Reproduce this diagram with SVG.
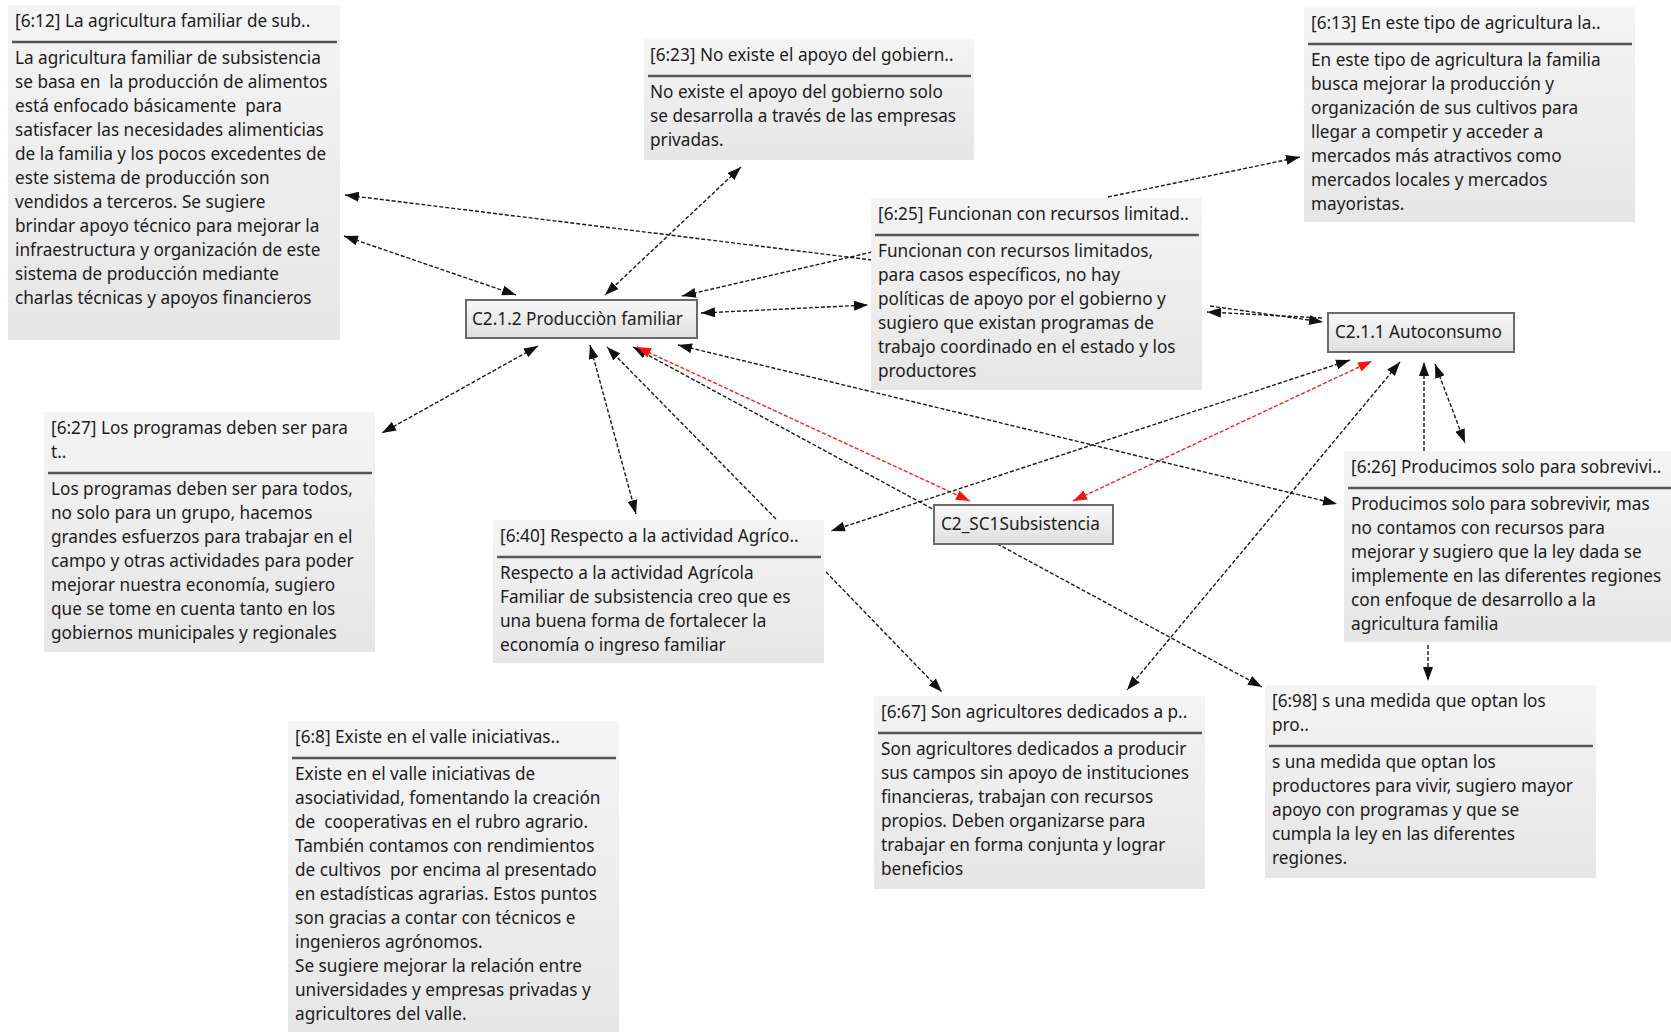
<svg xmlns="http://www.w3.org/2000/svg" width="1671" height="1032" viewBox="0 0 1671 1032">
<defs>
<linearGradient id="qg" x1="0" y1="0" x2="0" y2="1">
<stop offset="0" stop-color="#f4f4f4"/>
<stop offset="1" stop-color="#e6e6e6"/>
</linearGradient>
<linearGradient id="cg" x1="0" y1="0" x2="0" y2="1">
<stop offset="0" stop-color="#f7f7f7"/>
<stop offset="1" stop-color="#e0e0e0"/>
</linearGradient>
<marker id="ab" viewBox="0 0 14 10" refX="14" refY="5" markerWidth="14" markerHeight="10" orient="auto-start-reverse" markerUnits="userSpaceOnUse">
<path d="M0,0 L14,5 L0,10 Z" fill="#111" stroke="none"/>
</marker>
<marker id="ar" viewBox="0 0 14 10" refX="14" refY="5" markerWidth="14" markerHeight="10" orient="auto-start-reverse" markerUnits="userSpaceOnUse">
<path d="M0,0 L14,5 L0,10 Z" fill="#ff1010" stroke="none"/>
</marker>
</defs>
<style>
.q{fill:url(#qg);}
.c{fill:url(#cg);stroke:#6a6a6a;stroke-width:2;}
.sep{stroke:#555;stroke-width:2.5;}
text{font-family:"Noto Sans","Open Sans",sans-serif;font-size:17.2px;fill:#1c1c1c;white-space:pre;}
.ct{font-size:17.2px;}
.e{fill:none;stroke:#1a1a1a;stroke-width:1.4;stroke-dasharray:4 2;}
.b{marker-start:url(#ab);marker-end:url(#ab);}
.s{marker-end:url(#ab);}
.r{fill:none;stroke:#ff2020;stroke-width:1.4;stroke-dasharray:4 2;marker-start:url(#ar);marker-end:url(#ar);}
</style>
<rect width="1671" height="1032" fill="#ffffff"/>

<g id="connectors">
<line class="e s" x1="872" y1="260" x2="345" y2="195"/>
<line class="e s" x1="872" y1="252" x2="682" y2="296"/>
<line class="e b" x1="701" y1="313" x2="868" y2="305"/>
<line class="e b" x1="344" y1="236" x2="516" y2="295"/>
<line class="e b" x1="741" y1="167" x2="605" y2="295"/>
<line class="e b" x1="538" y1="346" x2="382" y2="433"/>
<line class="e b" x1="590" y1="345" x2="636" y2="514"/>
<line class="e s" x1="776" y1="519" x2="607" y2="347"/>
<line class="e b" x1="633" y1="347" x2="1262" y2="687"/>
<line class="r" x1="637" y1="347" x2="970" y2="501"/>
<line class="r" x1="1073" y1="501" x2="1372" y2="361"/>
<line class="e b" x1="678" y1="345" x2="1337" y2="504"/>
<line class="e b" x1="1350" y1="360" x2="831" y2="531"/>
<line class="e b" x1="1400" y1="362" x2="1127" y2="690"/>
<line class="e s" x1="1424" y1="451" x2="1424" y2="362"/>
<line class="e b" x1="1435" y1="364" x2="1465" y2="443"/>
<line class="e s" x1="1210" y1="306" x2="1323" y2="322"/>
<line class="e s" x1="1322" y1="318" x2="1207" y2="312"/>
<line class="e s" x1="1108" y1="197" x2="1300" y2="157"/>
<line class="e s" x1="1428" y1="645" x2="1428" y2="681"/>
<line class="e s" x1="826" y1="572" x2="942" y2="692"/>
</g>

<g id="q612">
<rect class="q" x="8" y="5" width="332" height="335"/>
<text x="15" y="26.5">[6:12] La agricultura familiar de sub..</text>
<line class="sep" x1="12" y1="42" x2="337" y2="42"/>
<text><tspan x="15" y="63.5">La agricultura familiar de subsistencia</tspan><tspan x="15" y="87.5">se basa en  la producción de alimentos</tspan><tspan x="15" y="111.5">está enfocado básicamente  para</tspan><tspan x="15" y="135.5">satisfacer las necesidades alimenticias</tspan><tspan x="15" y="159.5">de la familia y los pocos excedentes de</tspan><tspan x="15" y="183.5">este sistema de producción son</tspan><tspan x="15" y="207.5">vendidos a terceros. Se sugiere</tspan><tspan x="15" y="231.5">brindar apoyo técnico para mejorar la</tspan><tspan x="15" y="255.5">infraestructura y organización de este</tspan><tspan x="15" y="279.5">sistema de producción mediante</tspan><tspan x="15" y="303.5">charlas técnicas y apoyos financieros</tspan></text>
</g>

<g id="q623">
<rect class="q" x="644" y="39" width="330" height="121"/>
<text x="650" y="60.5">[6:23] No existe el apoyo del gobiern..</text>
<line class="sep" x1="648" y1="76" x2="971" y2="76"/>
<text><tspan x="650" y="97.5">No existe el apoyo del gobierno solo</tspan><tspan x="650" y="121.5">se desarrolla a través de las empresas</tspan><tspan x="650" y="145.5">privadas.</tspan></text>
</g>

<g id="q613">
<rect class="q" x="1304" y="7" width="331" height="215"/>
<text x="1311" y="28.5">[6:13] En este tipo de agricultura la..</text>
<line class="sep" x1="1308" y1="44" x2="1632" y2="44"/>
<text><tspan x="1311" y="65.5">En este tipo de agricultura la familia</tspan><tspan x="1311" y="89.5">busca mejorar la producción y</tspan><tspan x="1311" y="113.5">organización de sus cultivos para</tspan><tspan x="1311" y="137.5">llegar a competir y acceder a</tspan><tspan x="1311" y="161.5">mercados más atractivos como</tspan><tspan x="1311" y="185.5">mercados locales y mercados</tspan><tspan x="1311" y="209.5">mayoristas.</tspan></text>
</g>

<g id="q625">
<rect class="q" x="871" y="198" width="331" height="192"/>
<text x="878" y="219.5">[6:25] Funcionan con recursos limitad..</text>
<line class="sep" x1="875" y1="235" x2="1199" y2="235"/>
<text><tspan x="878" y="256.5">Funcionan con recursos limitados,</tspan><tspan x="878" y="280.5">para casos específicos, no hay</tspan><tspan x="878" y="304.5">políticas de apoyo por el gobierno y</tspan><tspan x="878" y="328.5">sugiero que existan programas de</tspan><tspan x="878" y="352.5">trabajo coordinado en el estado y los</tspan><tspan x="878" y="376.5">productores</tspan></text>
</g>

<g id="c212">
<rect class="c" x="466" y="300" width="231" height="38"/>
<text class="ct" x="472" y="325">C2.1.2 Producciòn familiar</text>
</g>

<g id="c211">
<rect class="c" x="1328" y="313" width="186" height="39"/>
<text class="ct" x="1335" y="338">C2.1.1 Autoconsumo</text>
</g>

<g id="csub">
<rect class="c" x="934" y="505" width="179" height="39"/>
<text class="ct" x="941" y="530">C2_SC1Subsistencia</text>
</g>

<g id="q627">
<rect class="q" x="44" y="412" width="331" height="240"/>
<text><tspan x="51" y="433.5">[6:27] Los programas deben ser para</tspan><tspan x="51" y="457.5">t..</tspan></text>
<line class="sep" x1="48" y1="473" x2="372" y2="473"/>
<text><tspan x="51" y="494.5">Los programas deben ser para todos,</tspan><tspan x="51" y="518.5">no solo para un grupo, hacemos</tspan><tspan x="51" y="542.5">grandes esfuerzos para trabajar en el</tspan><tspan x="51" y="566.5">campo y otras actividades para poder</tspan><tspan x="51" y="590.5">mejorar nuestra economía, sugiero</tspan><tspan x="51" y="614.5">que se tome en cuenta tanto en los</tspan><tspan x="51" y="638.5">gobiernos municipales y regionales</tspan></text>
</g>

<g id="q640">
<rect class="q" x="493" y="520" width="331" height="143"/>
<text x="500" y="541.5">[6:40] Respecto a la actividad Agríco..</text>
<line class="sep" x1="497" y1="557" x2="821" y2="557"/>
<text><tspan x="500" y="578.5">Respecto a la actividad Agrícola</tspan><tspan x="500" y="602.5">Familiar de subsistencia creo que es</tspan><tspan x="500" y="626.5">una buena forma de fortalecer la</tspan><tspan x="500" y="650.5">economía o ingreso familiar</tspan></text>
</g>

<g id="q626">
<rect class="q" x="1344" y="451" width="331" height="191"/>
<text x="1351" y="472.5">[6:26] Producimos solo para sobrevivi..</text>
<line class="sep" x1="1348" y1="488" x2="1671" y2="488"/>
<text><tspan x="1351" y="509.5">Producimos solo para sobrevivir, mas</tspan><tspan x="1351" y="533.5">no contamos con recursos para</tspan><tspan x="1351" y="557.5">mejorar y sugiero que la ley dada se</tspan><tspan x="1351" y="581.5">implemente en las diferentes regiones</tspan><tspan x="1351" y="605.5">con enfoque de desarrollo a la</tspan><tspan x="1351" y="629.5">agricultura familia</tspan></text>
</g>

<g id="q667">
<rect class="q" x="874" y="696" width="331" height="193"/>
<text x="881" y="717.5">[6:67] Son agricultores dedicados a p..</text>
<line class="sep" x1="878" y1="733" x2="1202" y2="733"/>
<text><tspan x="881" y="754.5">Son agricultores dedicados a producir</tspan><tspan x="881" y="778.5">sus campos sin apoyo de instituciones</tspan><tspan x="881" y="802.5">financieras, trabajan con recursos</tspan><tspan x="881" y="826.5">propios. Deben organizarse para</tspan><tspan x="881" y="850.5">trabajar en forma conjunta y lograr</tspan><tspan x="881" y="874.5">beneficios</tspan></text>
</g>

<g id="q698">
<rect class="q" x="1265" y="685" width="331" height="193"/>
<text><tspan x="1272" y="706.5">[6:98] s una medida que optan los</tspan><tspan x="1272" y="730.5">pro..</tspan></text>
<line class="sep" x1="1269" y1="746" x2="1593" y2="746"/>
<text><tspan x="1272" y="767.5">s una medida que optan los</tspan><tspan x="1272" y="791.5">productores para vivir, sugiero mayor</tspan><tspan x="1272" y="815.5">apoyo con programas y que se</tspan><tspan x="1272" y="839.5">cumpla la ley en las diferentes</tspan><tspan x="1272" y="863.5">regiones.</tspan></text>
</g>

<g id="q68">
<rect class="q" x="288" y="721" width="331" height="320"/>
<text x="295" y="742.5">[6:8] Existe en el valle iniciativas..</text>
<line class="sep" x1="292" y1="758" x2="616" y2="758"/>
<text><tspan x="295" y="779.5">Existe en el valle iniciativas de</tspan><tspan x="295" y="803.5">asociatividad, fomentando la creación</tspan><tspan x="295" y="827.5">de  cooperativas en el rubro agrario.</tspan><tspan x="295" y="851.5">También contamos con rendimientos</tspan><tspan x="295" y="875.5">de cultivos  por encima al presentado</tspan><tspan x="295" y="899.5">en estadísticas agrarias. Estos puntos</tspan><tspan x="295" y="923.5">son gracias a contar con técnicos e</tspan><tspan x="295" y="947.5">ingenieros agrónomos.</tspan><tspan x="295" y="971.5">Se sugiere mejorar la relación entre</tspan><tspan x="295" y="995.5">universidades y empresas privadas y</tspan><tspan x="295" y="1019.5">agricultores del valle.</tspan></text>
</g>
</svg>
